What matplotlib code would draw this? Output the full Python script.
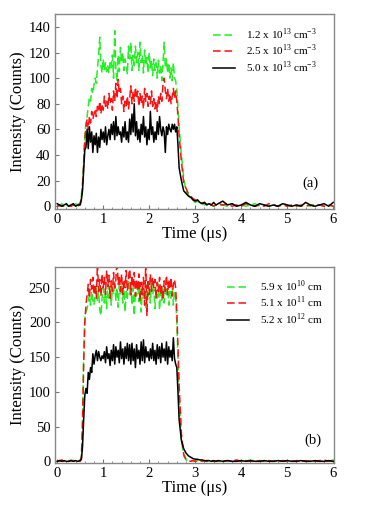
import numpy as np
import matplotlib
matplotlib.use("Agg")
import matplotlib.pyplot as plt
from matplotlib.ticker import MultipleLocator

plt.rcParams['font.family'] = ['Liberation Serif', 'DejaVu Serif']
plt.rcParams['mathtext.fontset'] = 'custom'
plt.rcParams['mathtext.rm'] = 'Liberation Serif'

# time grid (us): baseline, plateau, decay, tail
time = np.concatenate([
    np.linspace(0.0, 0.5, 11),
    np.linspace(0.525, 2.65, 86),
    np.linspace(2.7, 3.5, 17),
    np.linspace(3.6, 6.0, 25),
])

# ---- panel (a) ----
a_labels = ["1.2 x 10$^{13}$ cm$^{-3}$", "2.5 x 10$^{13}$ cm$^{-3}$", "5.0 x 10$^{13}$ cm$^{-3}$"]

a_green = [1, 0, 2, 0, 1, 0, 1, 0, 2, 1, 3,
           8, 18, 35, 55, 65, 70, 78, 85, 82, 92, 88, 95, 100, 96, 108, 118, 132, 110, 104, 115,
           106, 112, 105, 110, 104, 112, 108, 118, 100, 137, 108, 98, 118, 105, 124, 112, 120, 106, 115, 110,
           103, 125, 115, 128, 106, 118, 110, 125, 112, 120, 106, 128, 112, 118, 104, 122, 110, 116, 104, 120,
           108, 114, 102, 115, 106, 112, 100, 114, 104, 110, 98, 112, 128, 108, 115, 104, 112, 100, 108, 98,
           112, 100, 98, 90, 78, 62,
           40, 22, 12, 9, 6, 5, 3, 4, 2, 3, 1, 2, 0, 1, 0, 1, 0,
           1, 0, 2, 0, 1, 0, 1, 2, 0, 1, 0, 1, 0, 2, 1, 0, 1, 0, 1, 0, 2, 1, 0, 1, 0]

a_red = [0, 1, 0, 0, 1, 0, 0, 1, 0, 0, 2,
         6, 15, 32, 52, 62, 68, 60, 70, 65, 74, 68, 72, 76, 70, 78, 74, 82, 72, 80, 75,
         86, 78, 82, 76, 88, 80, 84, 75, 90, 82, 96, 84, 99, 88, 92, 80, 86, 74, 82, 78,
         86, 76, 84, 94, 80, 90, 82, 93, 84, 90, 78, 88, 80, 86, 76, 92, 82, 88, 78, 86,
         80, 90, 78, 84, 76, 82, 74, 86, 80, 88, 82, 95, 100, 90, 84, 92, 82, 88, 80, 86,
         92, 84, 90, 82, 70, 55,
         35, 18, 14, 10, 8, 6, 5, 4, 3, 2, 3, 1, 2, 1, 0, 1, 2,
         1, 2, 0, 1, 0, 2, 1, 0, 1, 0, 2, 1, 0, 1, 0, 1, 0, 1, 0, 1, 0, 1, 0, 1, 0]

a_black = [2, 1, 0, 1, 2, 0, 1, 2, 0, 1, 1,
           5, 12, 28, 44, 46, 60, 45, 62, 50, 58, 42, 55, 48, 57, 42, 54, 46, 60, 52, 58,
           50, 62, 48, 55, 60, 52, 64, 56, 66, 52, 70, 55, 62, 56, 58, 50, 62, 54, 66, 52,
           58, 50, 68, 56, 72, 58, 80, 55, 66, 52, 60, 50, 64, 56, 70, 54, 62, 48, 60, 52,
           74, 56, 62, 50, 58, 52, 66, 56, 70, 60, 55, 62, 58, 42, 62, 56, 64, 60, 58, 64,
           60, 64, 58, 62, 48, 30,
           20, 12, 10, 8, 7, 5, 4, 5, 3, 2, 3, 1, 2, 1, 3, 1, 2,
           4, 1, 2, 0, 1, 3, 1, 0, 2, 1, 0, 1, 0, 2, 1, 0, 1, 0, 3, 1, 0, 1, 2, 0, 3]

# ---- panel (b) ----
b_labels = ["5.9 x 10$^{10}$ cm", "5.1 x 10$^{11}$ cm", "5.2 x 10$^{12}$ cm"]

b_green = [1, 0, 1, 0, 1, 0, 2, 1, 0, 1, 2,
           5, 60, 150, 205, 215, 220, 230, 240, 225, 245, 232, 225, 240, 250, 230, 245, 218, 210, 235, 250,
           228, 245, 220, 255, 235, 248, 225, 250, 240, 260, 232, 250, 222, 258, 238, 255, 228, 248, 215, 245,
           235, 262, 240, 255, 225, 250, 210, 245, 238, 258, 230, 248, 215, 250, 235, 245, 222, 255, 238, 250,
           228, 262, 240, 248, 220, 245, 235, 255, 218, 248, 232, 252, 228, 250, 240, 258, 225, 245, 235, 250,
           225, 245, 238, 200, 150, 95,
           30, 8, 2, 1, 0, 1, 0, 1, 0, 1, 0, 0, 1, 0, 1, 0, 0,
           0, 1, 0, 0, 1, 0, 2, 0, 1, 0, 0, 1, 0, 1, 0, 0, 1, 0, 0, 1, 0, 1, 0, 0, 2]

b_red = [0, 1, 2, 0, 1, 0, 1, 0, 1, 2, 0,
         5, 50, 140, 200, 225, 240, 255, 235, 262, 248, 265, 240, 255, 235, 285, 245, 262, 238, 270, 250,
         265, 240, 275, 252, 268, 235, 260, 245, 272, 250, 262, 290, 255, 268, 245, 270, 240, 262, 250, 275,
         245, 262, 285, 240, 268, 250, 272, 238, 262, 245, 270, 230, 258, 240, 265, 225, 285, 210, 262, 240,
         270, 245, 265, 250, 262, 235, 258, 245, 265, 240, 252, 232, 260, 245, 268, 240, 262, 248, 265, 238,
         255, 262, 250, 215, 165, 110,
         40, 10, 3, 1, 0, 1, 0, 0, 1, 0, 1, 0, 0, 1, 0, 0, 1,
         0, 1, 0, 2, 0, 1, 0, 0, 1, 0, 1, 0, 0, 1, 0, 0, 1, 0, 1, 0, 0, 1, 2, 0, 1]

b_black = [0, 1, 0, 1, 0, 0, 1, 0, 1, 0, 1,
           3, 20, 60, 95, 105, 98, 128, 118, 135, 128, 155, 140, 152, 160, 145, 158, 150, 145, 152, 148,
           158, 142, 165, 148, 155, 138, 160, 145, 168, 140, 165, 150, 160, 142, 172, 148, 162, 140, 165, 148,
           170, 145, 168, 140, 170, 145, 162, 135, 168, 148, 160, 140, 172, 145, 175, 142, 165, 150, 158, 145,
           162, 148, 170, 145, 160, 140, 168, 148, 165, 142, 170, 150, 162, 145, 172, 140, 165, 150, 160, 145,
           178, 148, 140, 135, 100, 60,
           30, 18, 12, 8, 6, 4, 3, 3, 2, 2, 1, 1, 1, 0, 1, 0, 1,
           0, 1, 0, 0, 1, 0, 1, 0, 0, 1, 0, 0, 1, 0, 1, 0, 0, 1, 0, 0, 1, 0, 0, 1, 0]

colors = ['#22f022', '#ff1010', 'black']
styles = [(0, (5, 2.5)), (0, (5, 2.5)), '-']

fig = plt.figure(figsize=(3.66, 5.22), dpi=100)
ax1 = fig.add_axes([0.150, 0.600, 0.763, 0.373])
ax2 = fig.add_axes([0.150, 0.1136, 0.763, 0.375])


def style_axes(ax, ylim, yticks, tag, tag_xy):
    ax.set_xlim(-0.05, 6.02)
    ax.set_ylim(*ylim)
    ax.set_yticks(yticks)
    ax.set_xticks(range(0, 7))
    ax.xaxis.set_minor_locator(MultipleLocator(0.2))
    ax.tick_params(direction='in', labelsize=10.5, length=3, width=0.8, color='#777777', pad=3)
    ax.tick_params(which='minor', direction='in', length=1.8, width=0.6, color='#777777')
    for sp in ax.spines.values():
        sp.set_color('#888888')
        sp.set_linewidth(1.0)
    ax.set_xlabel("Time (\u03bcs)", fontsize=12, labelpad=0)
    ax.set_ylabel("Intensity (Counts)", fontsize=12, labelpad=2)
    ax.text(tag_xy[0], tag_xy[1], tag, fontsize=10.5, ha='center', va='center')


def add_legend(ax, anchor):
    ax.legend(loc='upper left', frameon=False, fontsize=8, handlelength=2.0,
              handletextpad=1.0, labelspacing=0.1, borderpad=0, borderaxespad=0,
              bbox_to_anchor=anchor)


for vals, lab, c, ls in zip([a_green, a_red, a_black], a_labels, colors, styles):
    ax1.plot(time, vals, color=c, linestyle=ls, linewidth=1.1, label=lab)
style_axes(ax1, (-2, 150), range(0, 141, 20), "(a)", (5.5, 18))
add_legend(ax1, (0.565, 0.935))

for vals, lab, c, ls in zip([b_green, b_red, b_black], b_labels, colors, styles):
    ax2.plot(time, vals, color=c, linestyle=ls, linewidth=1.1, label=lab)
style_axes(ax2, (-2, 280), range(0, 251, 50), "(b)", (5.55, 31))
add_legend(ax2, (0.615, 0.94))

fig.savefig("out.png", dpi=100)
